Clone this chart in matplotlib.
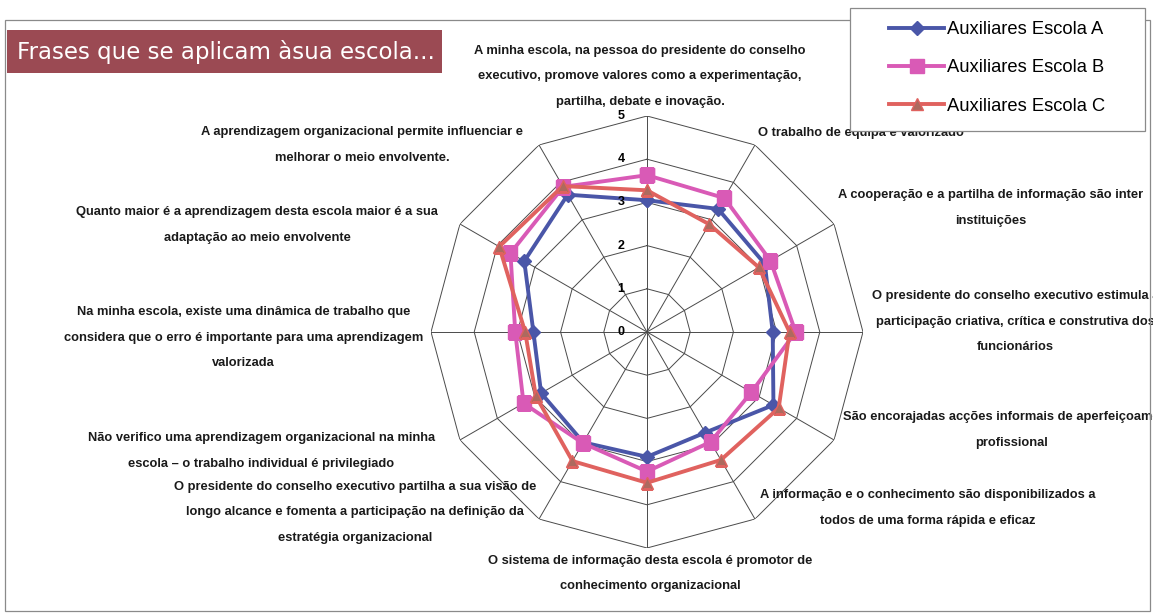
import numpy as np
import matplotlib
matplotlib.use('Agg')
import matplotlib.pyplot as plt
from matplotlib.patches import Rectangle
from matplotlib.transforms import Bbox, TransformedBbox

# ---------------- data ----------------
categories = [
    "A minha escola, na pessoa do presidente do conselho\nexecutivo, promove valores como a experimentação,\npartilha, debate e inovação.",
    "O trabalho de equipa é valorizado",
    "A cooperação e a partilha de informação são inter\ninstituições",
    "O presidente do conselho executivo estimula a\nparticipação criativa, crítica e construtiva dos\nfuncionários",
    "São encorajadas acções informais de aperfeiçoamento\nprofissional",
    "A informação e o conhecimento são disponibilizados a\ntodos de uma forma rápida e eficaz",
    "O sistema de informação desta escola é promotor de\nconhecimento organizacional",
    "O presidente do conselho executivo partilha a sua visão de\nlongo alcance e fomenta a participação na definição da\nestratégia organizacional",
    "Não verifico uma aprendizagem organizacional na minha\nescola – o trabalho individual é privilegiado",
    "Na minha escola, existe uma dinâmica de trabalho que\nconsidera que o erro é importante para uma aprendizagem\nvalorizada",
    "Quanto maior é a aprendizagem desta escola maior é a sua\nadaptação ao meio envolvente",
    "A aprendizagem organizacional permite influenciar e\nmelhorar o meio envolvente.",
]
escola_a = [3.05, 3.29, 3.15, 2.91, 3.38, 2.69, 2.89, 2.95, 2.83, 2.63, 3.28, 3.67]
escola_b = [3.63, 3.58, 3.30, 3.44, 2.79, 2.94, 3.23, 2.97, 3.30, 3.05, 3.65, 3.88]
escola_c = [3.28, 2.88, 2.99, 3.30, 3.52, 3.42, 3.49, 3.45, 2.97, 2.82, 3.95, 3.90]
series_names = ["Auxiliares Escola A", "Auxiliares Escola B", "Auxiliares Escola C"]
r_ticks = [0, 1, 2, 3, 4, 5]
title_text = "Frases que se aplicam àsua escola..."

# ---------------- styles ----------------
W, H = 1167, 616
fig = plt.figure(figsize=(W / 100, H / 100), dpi=100)
fig.patch.set_facecolor('white')

def fx(px):
    return px / W

def fy(py):
    return 1 - py / H

cx, cy, R = 647, 332, 216
ax = fig.add_axes([fx(cx - R), fy(cy + R), 2 * R / W, 2 * R / H], projection='polar')
ax.set_theta_zero_location('N')
ax.set_theta_direction(-1)
ax.set_ylim(0, r_ticks[-1])
ax.grid(False)
ax.set_xticks([])
ax.set_yticks([])
ax.spines['polar'].set_visible(False)
ax.patch.set_visible(False)

n = len(categories)
theta = np.arange(n) * 2 * np.pi / n
theta_c = np.append(theta, theta[0])

grid_col = '#4a4a4a'
for k in r_ticks[1:]:
    ax.plot(theta_c, [k] * (n + 1), color=grid_col, lw=0.7, zorder=1)
for t in theta:
    ax.plot([t, t], [0, r_ticks[-1]], color=grid_col, lw=0.7, zorder=1)

styles = [
    dict(color='#4a56a8', marker='D', markersize=7.5, mfc='#4a56a8', mec='#4a56a8'),
    dict(color='#d95ab6', marker='s', markersize=10, mfc='#d95ab6', mec='#d95ab6'),
    dict(color='#e0625f', marker='^', markersize=9, mfc='#ad6a5e', mec='#e0625f'),
]
handles = []
for vals, name, st in zip([escola_a, escola_b, escola_c], series_names, styles):
    v = np.append(vals, vals[0])
    h, = ax.plot(theta_c, v, lw=2.8, label=name, zorder=3, **st)
    handles.append(h)

for k in r_ticks:
    ax.annotate(str(k), xy=(0, k), xytext=(-26, 0), textcoords='offset pixels',
                ha='center', va='center', fontsize=9, fontweight='bold',
                family='Liberation Sans', annotation_clip=False)

# label placement (offset pixels, ha, va)
label_pos = [
    ((-7, 8), 'center', 'bottom'),
    ((3, 6), 'left', 'bottom'),
    ((4, 16), 'left', 'center'),
    ((9, 10), 'left', 'center'),
    ((9, 10), 'left', 'center'),
    ((5, 11), 'left', 'center'),
    ((3, -7), 'center', 'top'),
    ((-3, 7), 'right', 'center'),
    ((-25, -11), 'right', 'center'),
    ((-8, -6), 'right', 'center'),
    ((-22, -1), 'right', 'center'),
    ((-16, 0), 'right', 'center'),
]
clipbox = TransformedBbox(Bbox.from_extents(0, 0, fx(1153), 1), fig.transFigure)
for t, lab, (off, ha, va) in zip(theta, categories, label_pos):
    a = ax.annotate(lab, xy=(t, r_ticks[-1]), xytext=off, textcoords='offset pixels',
                    ha=ha, va=va, multialignment='center', fontsize=9.3,
                    fontweight='bold', family='Liberation Sans', linespacing=2.5,
                    color='#1a1a1a', annotation_clip=False)
    a.set_clip_on(True)
    a.set_clip_box(clipbox)

# chart border
fig.add_artist(Rectangle((fx(5), fy(611)), fx(1150) - fx(5), fy(20) - fy(611),
                         transform=fig.transFigure, fill=False, edgecolor='#8a8a8a',
                         lw=0.9, zorder=1))

# title box
fig.add_artist(Rectangle((fx(7), fy(73)), fx(442) - fx(7), fy(30) - fy(73),
                         transform=fig.transFigure, facecolor='#9b4a53',
                         edgecolor='none', zorder=2))
fig.text(fx(17), fy(52), title_text, color='white', fontsize=16.5,
         family='DejaVu Sans', ha='left', va='center', zorder=3)

# legend box
fig.add_artist(Rectangle((fx(850), fy(131)), fx(1145) - fx(850), fy(8) - fy(131),
                         transform=fig.transFigure, facecolor='white',
                         edgecolor='#8a8a8a', lw=0.9, zorder=4))
leg = fig.legend(handles, series_names, loc='center',
                 bbox_to_anchor=(fx(997), fy(68)), frameon=False, numpoints=1,
                 prop=dict(family='Liberation Sans', size=13.2),
                 handlelength=3.0, handletextpad=0.15, labelspacing=1.15,
                 borderpad=0)
leg.set_zorder(5)

fig.savefig('out.png', dpi=100)
